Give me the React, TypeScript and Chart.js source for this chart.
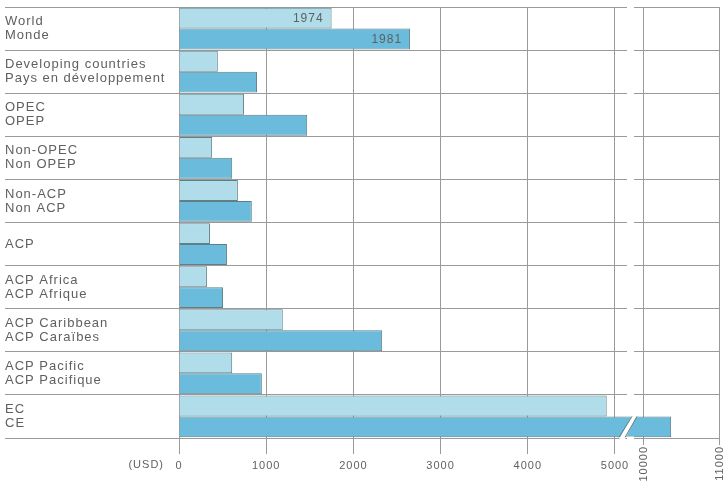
import React, { useEffect, useRef } from 'react';
import { Chart, LinearScale, registerables } from 'chart.js';

// ---------- data ----------
const categories: string[][] = [
  ['World', 'Monde'],
  ['Developing countries', 'Pays en développement'],
  ['OPEC', 'OPEP'],
  ['Non-OPEC', 'Non OPEP'],
  ['Non-ACP', 'Non ACP'],
  ['ACP'],
  ['ACP Africa', 'ACP Afrique'],
  ['ACP Caribbean', 'ACP Caraïbes'],
  ['ACP Pacific', 'ACP Pacifique'],
  ['EC', 'CE'],
];
const seriesLabels = ['1974', '1981'];
const values1974 = [1750, 445, 745, 380, 675, 355, 320, 1190, 610, 4905];
const values1981 = [2650, 895, 1470, 610, 835, 550, 505, 2330, 950, 10370];
const xTickValues = [0, 1000, 2000, 3000, 4000, 5000, 10000, 11000];
const rotatedTickValues = [10000, 11000];
const axisUnit = '(USD)';
const breakStart = 5000;
const breakEnd = 10000;
const axisMax = 11000;

// ---------- styles ----------
const FONT = '"Liberation Sans", Arial, Helvetica, sans-serif';
const TEXT = '#606060';
const GRID = '#9a9a9a';
const LIGHT = '#b1ddeb';
const DARK = '#6bbbdc';
const BORDER = '#5e7f86';
// fraction of axis length at the start/end of the break
const D1 = 0.8074;
const D2 = 0.8593;

function toDec(v: number): number {
  if (v <= breakStart) return (v / breakStart) * D1;
  if (v <= breakEnd) return D1 + ((v - breakStart) / (breakEnd - breakStart)) * (D2 - D1);
  return D2 + ((v - breakEnd) / (axisMax - breakEnd)) * (1 - D2);
}
function fromDec(d: number): number {
  if (d <= D1) return (d / D1) * breakStart;
  if (d <= D2) return breakStart + ((d - D1) / (D2 - D1)) * (breakEnd - breakStart);
  return breakEnd + ((d - D2) / (1 - D2)) * (axisMax - breakEnd);
}

class BrokenLinearScale extends LinearScale {
  static id = 'brokenLinear';
  static defaults = (LinearScale as any).defaults;
  getPixelForValue(value: number) {
    const v = value == null || isNaN(value) ? 0 : value;
    return (this as any).getPixelForDecimal(toDec(v));
  }
  getValueForPixel(pixel: number) {
    return fromDec((this as any).getDecimalForPixel(pixel));
  }
}

Chart.register(...registerables, BrokenLinearScale as any);

const decorPlugin = {
  id: 'decor',
  beforeDraw(chart: any) {
    chart.ctx.letterSpacing = '1px';
  },
  afterDatasetsDraw(chart: any) {
    const ctx = chart.ctx;
    // year labels in World bars
    ctx.save();
    ctx.font = `12px ${FONT}`;
    ctx.fillStyle = TEXT;
    ctx.textAlign = 'right';
    ctx.textBaseline = 'middle';
    [0, 1].forEach((di) => {
      const el = chart.getDatasetMeta(di).data[0];
      const p = el.getProps(['x', 'y'], true);
      ctx.fillText(seriesLabels[di], p.x - 8, p.y + 1);
    });
    ctx.restore();
  },
  afterDraw(chart: any) {
    const ctx = chart.ctx;
    const xs = chart.scales.x;
    const ys = chart.scales.y;
    const cx = xs.getPixelForValue((breakStart + breakEnd) / 2);
    ctx.save();
    // gaps in horizontal separator lines
    const n = categories.length;
    const half = (ys.getPixelForValue(1) - ys.getPixelForValue(0)) / 2;
    ctx.fillStyle = '#ffffff';
    for (let i = 0; i <= n; i++) {
      const y = ys.getPixelForValue(i) - half;
      ctx.fillRect(cx - 2, y - 1.5, 7, 3);
    }
    // slash on the broken bar
    const el = chart.getDatasetMeta(1).data[n - 1];
    const p = el.getProps(['y', 'height'], true);
    const top = p.y - p.height / 2;
    const bot = p.y + p.height / 2;
    ctx.beginPath();
    ctx.moveTo(cx + 3, top - 1);
    ctx.lineTo(cx + 8, top - 1);
    ctx.lineTo(cx - 4, bot + 2);
    ctx.lineTo(cx - 10, bot + 2);
    ctx.closePath();
    ctx.fill();
    ctx.strokeStyle = BORDER;
    ctx.lineWidth = 1;
    ctx.beginPath();
    ctx.moveTo(cx + 3, top);
    ctx.lineTo(cx - 10, bot);
    ctx.moveTo(cx + 8, top);
    ctx.lineTo(cx - 4, bot);
    ctx.stroke();
    // shorten the ticks of the rotated labels
    rotatedTickValues.forEach((v) => {
      const px = xs.getPixelForValue(v);
      ctx.fillRect(px - 2, xs.top + 7, 4, 10);
    });
    // unit label
    ctx.font = `11px ${FONT}`;
    ctx.fillStyle = TEXT;
    ctx.textAlign = 'right';
    ctx.textBaseline = 'middle';
    ctx.fillText(axisUnit, xs.getPixelForValue(0) - 15, xs.top + 27);
    // rotated tick labels
    rotatedTickValues.forEach((v) => {
      const px = xs.getPixelForValue(v);
      ctx.save();
      ctx.translate(px + 1, xs.top + 8);
      ctx.rotate(-Math.PI / 2);
      ctx.textAlign = 'right';
      ctx.textBaseline = 'middle';
      ctx.fillText(String(v), 0, 0);
      ctx.restore();
    });
    ctx.restore();
  },
};

export default function App() {
  const ref = useRef<HTMLCanvasElement | null>(null);
  useEffect(() => {
    if (!ref.current) return;
    const chart = new Chart(ref.current, {
      type: 'bar',
      data: {
        labels: categories as any,
        datasets: [
          {
            label: seriesLabels[0],
            data: values1974,
            backgroundColor: LIGHT,
            borderColor: BORDER,
            borderWidth: 1,
            categoryPercentage: 0.97,
            barPercentage: 1,
          },
          {
            label: seriesLabels[1],
            data: values1981,
            backgroundColor: DARK,
            borderColor: BORDER,
            borderWidth: 1,
            categoryPercentage: 0.97,
            barPercentage: 1,
          },
        ],
      },
      options: {
        indexAxis: 'y',
        responsive: false,
        animation: false,
        layout: { padding: { left: 5, right: 7, top: 7, bottom: 0 } },
        plugins: {
          legend: { display: false },
          tooltip: { enabled: false },
          title: { display: false },
        },
        scales: {
          x: {
            type: 'brokenLinear' as any,
            min: 0,
            max: axisMax,
            afterBuildTicks: (s: any) => {
              s.ticks = xTickValues.map((v) => ({ value: v }));
            },
            afterFit: (s: any) => {
              s.height = 44;
              s.paddingLeft = 0;
              s.paddingRight = 0;
            },
            grid: { color: GRID, lineWidth: 1, tickLength: 16, drawTicks: true },
            border: { display: false },
            ticks: {
              autoSkip: false,
              maxRotation: 0,
              minRotation: 0,
              padding: 5,
              color: TEXT,
              font: { family: FONT, size: 11 },
              callback: (v: any) => (rotatedTickValues.includes(Number(v)) ? '' : String(v)),
            },
          } as any,
          y: {
            type: 'category',
            offset: true,
            grid: { offset: true, color: GRID, lineWidth: 1, tickLength: 174 },
            border: { display: false },
            afterFit: (s: any) => {
              s.width = 174;
              s.paddingTop = 0;
              s.paddingBottom = 0;
            },
            ticks: {
              crossAlign: 'far',
              padding: 0,
              color: TEXT,
              autoSkip: false,
              font: { family: FONT, size: 13, lineHeight: '14px' as any },
            },
          },
        },
      },
      plugins: [decorPlugin],
    });
    return () => chart.destroy();
  }, []);
  return (
    <div style={{ position: 'fixed', left: 0, top: 0, width: 726, height: 482, background: '#fff' }}>
      <canvas ref={ref} width={726} height={482} style={{ width: 726, height: 482 }} />
    </div>
  );
}
